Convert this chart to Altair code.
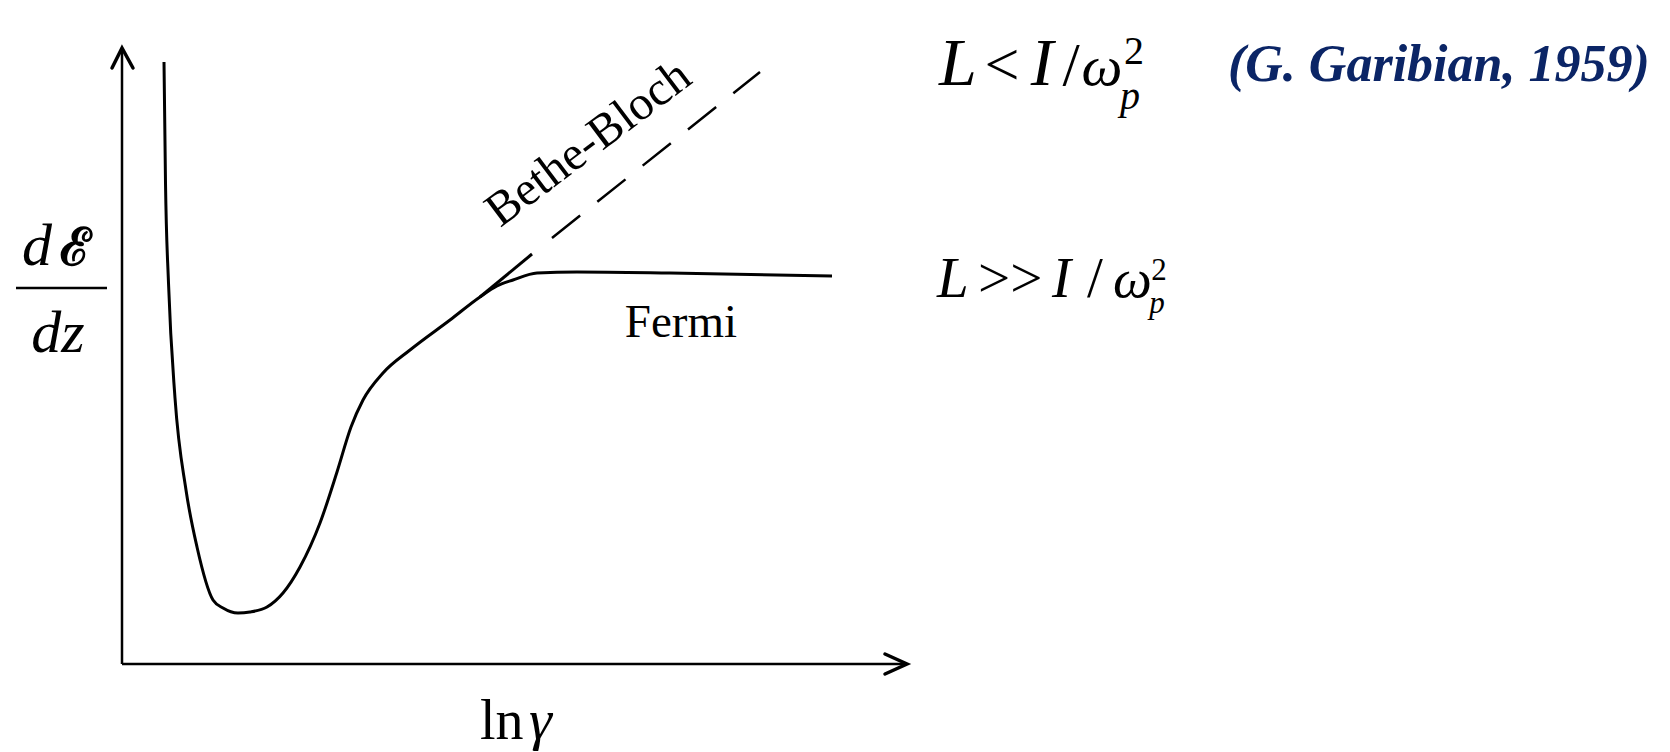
import altair as alt
import pandas as pd

# Drawing units: x to the right of the vertical axis, y above the horizontal axis.
# Energy-loss curve dE/dz versus ln(gamma), continuing into the Fermi plateau
curve_x = [42, 43.5, 46.5, 53, 64, 75, 91, 101, 116, 128, 145, 161, 178, 198,
           215, 229, 241, 261, 288, 328, 358, 375, 391, 415, 455, 548, 710]
curve_y = [602, 481, 381, 266, 174, 117, 64, 56, 51, 52, 57, 71, 97, 141,
           192, 237, 264, 291, 314, 344, 367, 378, 384, 391, 392, 391, 388]

# Bethe-Bloch logarithmic rise: solid part and dashed extrapolation
bethe_solid_x = [358, 410]
bethe_solid_y = [367, 410]
bethe_dash_x = [430, 638]
bethe_dash_y = [426, 592]

# Axis lines and their open arrowheads
axis_x_end = 785
axis_y_end = 616
arrow_y_x = [-10, 0, 11]
arrow_y_y = [596, 616, 596]
arrow_x_x = [763, 785, 763]
arrow_x_y = [10, 0, -10]

X_DOMAIN = [-122, 1548]
Y_DOMAIN = [-88, 664]
SERIF = "Liberation Serif"


def xs():
    return alt.X("x:Q", scale=alt.Scale(domain=X_DOMAIN, nice=False, zero=False), axis=None)


def ys():
    return alt.Y("y:Q", scale=alt.Scale(domain=Y_DOMAIN, nice=False, zero=False), axis=None)


def frame(xv, yv):
    return pd.DataFrame({"x": xv, "y": yv, "o": list(range(len(xv)))})


curve = alt.Chart(frame(curve_x, curve_y)).mark_line(
    color="black", strokeWidth=3, interpolate="monotone"
).encode(x=xs(), y=ys(), order="o:Q")

bethe_solid = alt.Chart(frame(bethe_solid_x, bethe_solid_y)).mark_line(
    color="black", strokeWidth=3
).encode(x=xs(), y=ys(), order="o:Q")

bethe_dash = alt.Chart(frame(bethe_dash_x, bethe_dash_y)).mark_line(
    color="black", strokeWidth=2.5, strokeDash=[36, 22]
).encode(x=xs(), y=ys(), order="o:Q")

axes = alt.Chart(pd.DataFrame({
    "x": [0, 0], "y": [0, 0], "x2": [0, axis_x_end], "y2": [axis_y_end, 0]
})).mark_rule(color="black", strokeWidth=2.5).encode(
    x=xs(), y=ys(), x2="x2:Q", y2="y2:Q"
)

arrow_y = alt.Chart(frame(arrow_y_x, arrow_y_y)).mark_line(
    color="black", strokeWidth=3.5, strokeCap="round", strokeJoin="miter"
).encode(x=xs(), y=ys(), order="o:Q")

arrow_x = alt.Chart(frame(arrow_x_x, arrow_x_y)).mark_line(
    color="black", strokeWidth=3.5, strokeCap="round", strokeJoin="miter"
).encode(x=xs(), y=ys(), order="o:Q")


def label(text, x, y, size, style="normal", weight="normal", align="left",
          angle=0, color="black", font=SERIF):
    return alt.Chart(pd.DataFrame({"x": [x], "y": [y], "t": [text]})).mark_text(
        font=font, fontSize=size, fontStyle=style, fontWeight=weight,
        align=align, baseline="alphabetic", angle=angle, color=color
    ).encode(x=xs(), y=ys(), text="t:N")


labels = [
    # vertical axis title: d(script E) over dz
    label("d", -100, 399, 60, style="italic"),
    label("ℰ", -62, 399, 52, weight="bold"),
    label("dz", -64, 312, 60, style="italic", align="center"),
    # horizontal axis title
    label("ln", 358, -75, 56),
    label("γ", 407, -75, 58, style="italic"),
    # curve annotations
    label("Bethe-Bloch", 475, 509, 48, align="center", angle=323),
    label("Fermi", 559, 327, 47, align="center"),
    # thin-absorber condition
    label("L", 836, 579, 68, style="italic", align="center"),
    label("<", 880, 579, 62, align="center"),
    label("I", 920, 579, 68, style="italic", align="center"),
    label("/", 949, 579, 62, align="center"),
    label("ω", 980, 579, 58, style="italic", align="center"),
    label("2", 1012, 600, 40, align="center"),
    label("p", 1008, 555, 40, style="italic", align="center"),
    # thick-absorber condition
    label("L", 815, 367, 57, style="italic"),
    label(">>", 856, 367, 57),
    label("I", 930, 367, 57, style="italic"),
    label("/", 965, 367, 57),
    label("ω", 991, 367, 55, style="italic"),
    label("2", 1037, 384, 31, align="center"),
    label("p", 1035, 351, 31, style="italic", align="center"),
    # reference
    label("(G. Garibian, 1959)", 1106, 583, 52, style="italic", weight="bold",
          color="#0b2566"),
]

frac_bar = alt.Chart(pd.DataFrame({"x": [-106], "x2": [-15], "y": [376]})).mark_rule(
    color="black", strokeWidth=2.5
).encode(x=xs(), x2="x2:Q", y=ys())

chart = alt.layer(
    axes, arrow_y, arrow_x, curve, bethe_solid, bethe_dash, frac_bar, *labels
).properties(
    width=1670, height=752, padding=0, background="white",
    autosize=alt.AutoSizeParams(type="none")
).configure_view(stroke=None)

chart.save("out.html", embed_options={"renderer": "svg", "actions": False})
